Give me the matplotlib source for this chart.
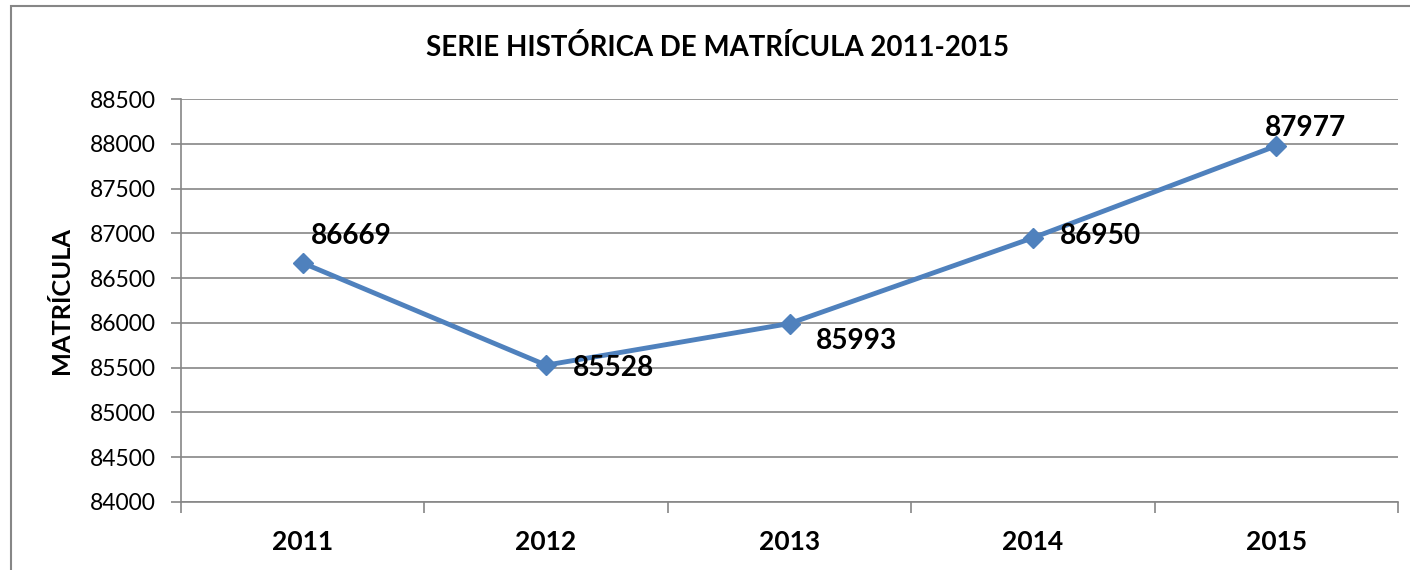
import matplotlib.pyplot as plt
from matplotlib.patches import Rectangle

plt.rcParams['font.family'] = ['Lato', 'DejaVu Sans']

years = ["2011", "2012", "2013", "2014", "2015"]
matricula = [86669, 85528, 85993, 86950, 87977]
# label offsets in pixels (dx, dy) relative to each point, as placed in the reference
label_offsets = [(8, 27), (27, -3), (26, -17), (27, 2), (-11, 18)]

fig = plt.figure(figsize=(14.1, 5.7), dpi=100)
ax = fig.add_axes([181 / 1410, 1 - 502 / 570, (1398 - 181) / 1410, (502 - 99) / 570])

# outer chart frame (runs off the right and bottom edges like the source)
fig.patches.append(Rectangle((11 / 1410, -0.05), 1.1, 1 - 6 / 570 + 0.05,
                             transform=fig.transFigure, fill=False,
                             edgecolor='#868686', linewidth=1.5))

x = list(range(len(years)))
ax.plot(x, matricula, color='#4F81BD', linewidth=3.5, marker='D',
        markersize=10, markerfacecolor='#4F81BD', markeredgecolor='#4F81BD',
        zorder=3)

for xi, v, (dx, dy) in zip(x, matricula, label_offsets):
    ax.annotate(str(v), (xi, v), xytext=(dx, dy), textcoords='offset pixels',
                ha='left', va='center', fontsize=20.2, fontweight='bold', zorder=4)

ax.set_xlim(-0.5, len(years) - 0.5)
ax.set_ylim(84000, 88500)
ax.set_yticks(range(84000, 88501, 500))
ax.tick_params(axis='y', labelsize=16.5, length=7, width=1.2, color='#868686', pad=11)
ax.set_xticks(x)
ax.set_xticklabels(years, fontsize=19, fontweight='bold')
ax.tick_params(axis='x', length=0, pad=20)
ax.set_xticks([i - 0.5 for i in range(len(years) + 1)], minor=True)
ax.tick_params(axis='x', which='minor', length=8, width=1.2, color='#868686')

ax.grid(axis='y', color='#868686', linewidth=1.2)
ax.set_axisbelow(True)
for side in ['top', 'right']:
    ax.spines[side].set_visible(False)
for side in ['left', 'bottom']:
    ax.spines[side].set_color('#868686')
    ax.spines[side].set_linewidth(1.2)

ax.set_ylabel("MATRÍCULA", fontsize=18.3, fontweight='bold', labelpad=12)
fig.text(718 / 1410, 1 - 48 / 570, "SERIE HISTÓRICA DE MATRÍCULA 2011-2015",
         ha='center', va='center', fontsize=19.9, fontweight='bold')

fig.savefig("out.png", dpi=100)
